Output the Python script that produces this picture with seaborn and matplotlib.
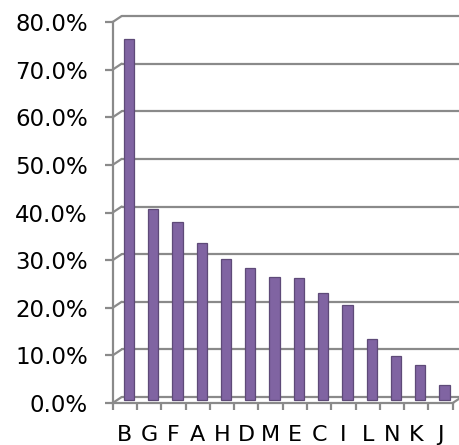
import pandas as pd
import seaborn as sns
import matplotlib.pyplot as plt
from matplotlib.ticker import PercentFormatter, FixedLocator
from matplotlib.transforms import ScaledTranslation

categories = ['B', 'G', 'F', 'A', 'H', 'D', 'M', 'E', 'C', 'I', 'L', 'N', 'K', 'J']
values = [75.8, 40.1, 37.3, 32.9, 29.6, 27.8, 25.9, 25.6, 22.5, 20.0, 12.9, 9.2, 7.3, 3.1]
yticks = [0, 10, 20, 30, 40, 50, 60, 70, 80]

df = pd.DataFrame({'cat': categories, 'val': values})

sns.set_style('white')
plt.rcParams['font.family'] = ['DejaVu Sans']

fig = plt.figure(figsize=(4.6, 4.45), dpi=100)
ax = fig.add_axes([112.7 / 460, 42 / 445, 340 / 460, 381 / 445])

grey = '#8a8a8a'
purple = '#8064a2'

sns.barplot(data=df, x='cat', y='val', color=purple, width=0.42,
            edgecolor='#5e4a78', linewidth=0.9, saturation=1, ax=ax, zorder=3)

ax.set_xlim(-0.5, len(categories) - 0.5)
ax.set_ylim(0, 80)

# bars sit at mid depth of the pseudo-3d box
shift = ScaledTranslation(4 / 100, 3 / 100, fig.dpi_scale_trans)
for p in ax.patches:
    p.set_transform(ax.transData + shift)

# back wall offset in data units (about 9px right, 6px up)
dx = 9 / (340 / len(categories))
dy = 6 / (381 / 80)
x0, x1 = -0.5, len(categories) - 0.5
for v in yticks:
    ax.plot([x0 + dx, x1 + dx], [v + dy, v + dy], color=grey, lw=1.6,
            clip_on=False, zorder=1)
    ax.plot([x0, x0 + dx], [v, v + dy], color=grey, lw=1.6,
            clip_on=False, zorder=1)
ax.plot([x1, x1 + dx], [0, dy], color=grey, lw=1.6, clip_on=False, zorder=1)

for s in ['top', 'right']:
    ax.spines[s].set_visible(False)
for s in ['left', 'bottom']:
    ax.spines[s].set_color(grey)
    ax.spines[s].set_linewidth(1.6)

ax.set_yticks(yticks)
ax.yaxis.set_major_formatter(PercentFormatter(decimals=1))
ax.tick_params(axis='y', length=6, width=1.6, color=grey, pad=11.8,
               labelsize=16.5, labelcolor='black', left=True)

ax.xaxis.set_minor_locator(FixedLocator([i - 0.5 for i in range(len(categories) + 1)]))
ax.tick_params(axis='x', which='minor', length=5, width=1.6, color=grey, bottom=True)
ax.tick_params(axis='x', which='major', length=0, pad=16, labelsize=16,
               labelcolor='black')

ax.set_xlabel('')
ax.set_ylabel('')
ax.grid(False)

fig.savefig('out.png', dpi=100)
